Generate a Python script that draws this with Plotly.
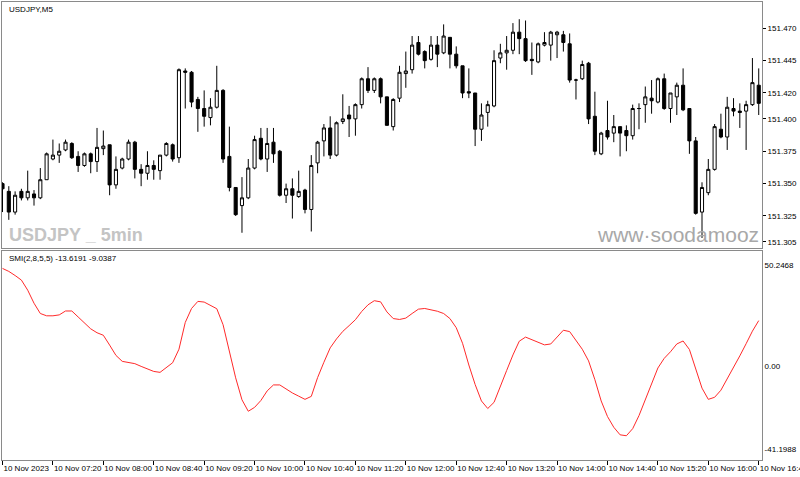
import pandas as pd
import plotly.graph_objects as go

# ---------------- data ----------------
start_time = "2023-11-10 06:40"
n_bars = 121

opens = [151.350,151.344,151.328,151.344,151.339,151.342,151.339,151.353,151.369,151.372,
         151.376,151.381,151.371,151.364,151.373,151.367,151.377,151.380,151.349,151.362,
         151.369,151.382,151.361,151.358,151.364,151.360,151.372,151.380,151.370,151.437,
         151.436,151.415,151.408,151.401,151.409,151.422,151.371,151.347,151.333,151.339,
         151.362,151.385,151.369,151.382,151.375,151.341,151.346,151.340,151.345,151.330,
         151.366,151.383,151.393,151.372,151.398,151.403,151.400,151.411,151.431,151.422,
         151.431,151.417,151.394,151.416,151.435,151.438,151.459,151.452,151.446,151.457,
         151.451,151.463,151.450,151.441,151.421,151.420,151.392,151.405,151.410,151.447,
         151.451,151.453,151.467,151.462,151.446,151.444,151.457,151.457,151.465,151.465,
         151.458,151.430,151.431,151.443,151.402,151.373,151.391,151.389,151.394,151.391,
         151.387,151.408,151.411,151.416,151.413,151.431,151.408,151.417,151.426,151.408,
         151.383,151.328,151.343,151.361,151.392,151.386,151.408,151.406,151.406,151.411,
         151.426]
highs = [151.351,151.348,151.344,151.346,151.360,151.345,151.362,151.374,151.384,151.381,
         151.384,151.382,151.375,151.374,151.374,151.393,151.391,151.380,151.371,151.370,
         151.384,151.383,151.365,151.375,151.368,151.372,151.382,151.381,151.439,151.439,
         151.437,151.417,151.422,151.416,151.441,151.423,151.394,151.347,151.355,151.369,
         151.387,151.393,151.393,151.393,151.376,151.350,151.354,151.360,151.346,151.372,
         151.383,151.396,151.402,151.398,151.419,151.410,151.412,151.432,151.440,151.432,
         151.432,151.417,151.416,151.441,151.452,151.464,151.464,151.453,151.464,151.464,
         151.473,151.463,151.456,151.441,151.439,151.420,151.412,151.414,151.453,151.458,
         151.464,151.474,151.477,151.476,151.459,151.459,151.467,151.468,151.468,151.468,
         151.466,151.431,151.445,151.444,151.421,151.390,151.414,151.403,151.394,151.395,
         151.411,151.412,151.425,151.430,151.432,151.435,151.420,151.428,151.439,151.408,
         151.386,151.351,151.369,151.396,151.404,151.417,151.416,151.412,151.414,151.447,
         151.439]
lows = [151.328,151.322,151.326,151.337,151.337,151.333,151.338,151.353,151.368,151.366,
        151.375,151.369,151.359,151.363,151.358,151.359,151.372,151.341,151.346,151.361,
        151.368,151.354,151.348,151.353,151.353,151.353,151.371,151.367,151.366,151.408,
        151.409,151.390,151.394,151.395,151.408,151.366,151.344,151.325,151.312,151.338,
        151.361,151.368,151.359,151.366,151.340,151.335,151.323,151.339,151.327,151.313,
        151.358,151.371,151.369,151.371,151.396,151.386,151.387,151.408,151.420,151.420,
        151.412,151.395,151.391,151.413,151.424,151.435,151.449,151.439,151.445,151.440,
        151.450,151.439,151.439,151.416,151.416,151.379,151.383,151.394,151.409,151.443,
        151.438,151.450,151.450,151.444,151.434,151.443,151.456,151.445,151.447,151.452,
        151.428,151.415,151.430,151.396,151.372,151.372,151.384,151.382,151.371,151.375,
        151.384,151.392,151.397,151.404,151.412,151.407,151.397,151.403,151.406,151.373,
        151.326,151.308,151.341,151.360,151.385,151.376,151.402,151.393,151.376,151.410,
        151.403]
closes = [151.346,151.328,151.341,151.339,151.344,151.339,151.353,151.373,151.372,151.375,
          151.382,151.370,151.364,151.373,151.367,151.378,151.379,151.349,151.361,151.369,
          151.382,151.361,151.358,151.364,151.361,151.372,151.381,151.369,151.438,151.436,
          151.413,151.408,151.402,151.409,151.422,151.369,151.347,151.326,151.339,151.362,
          151.384,151.369,151.381,151.373,151.341,151.346,151.341,151.344,151.330,151.364,
          151.382,151.393,151.372,151.397,151.400,151.400,151.411,151.431,151.422,151.431,
          151.417,151.395,151.415,151.436,151.437,151.457,151.450,151.445,151.457,151.450,
          151.464,151.450,151.441,151.420,151.420,151.392,151.403,151.411,151.445,151.451,
          151.453,151.467,151.462,151.445,151.445,151.458,151.459,151.467,151.467,151.459,
          151.430,151.430,151.442,151.400,151.375,151.389,151.386,151.394,151.389,151.387,
          151.408,151.408,151.417,151.414,151.431,151.408,151.420,151.426,151.407,151.383,
          151.327,151.347,151.361,151.394,151.386,151.409,151.406,151.405,151.411,151.428,
          151.412]

smi = [42.5,41.2,39.4,37.4,33.0,27.3,22.8,21.8,21.8,22.2,
       23.9,23.9,21.3,18.9,16.1,14.4,13.3,9.0,4.5,1.9,
       1.3,0.9,-0.3,-1.5,-2.5,-2.9,-0.8,1.3,7.2,18.9,
       25.0,28.1,27.8,26.5,24.9,17.9,6.9,-5.3,-14.9,-19.9,
       -18.2,-15.2,-11.0,-8.4,-8.4,-10.3,-11.9,-13.3,-14.7,-13.4,
       -5.2,1.5,7.8,11.7,15.0,17.5,20.1,23.7,26.6,28.4,
       27.9,23.5,20.6,20.2,20.8,22.8,24.7,25.0,24.5,23.8,
       22.8,20.6,16.6,9.8,0.3,-8.2,-15.4,-18.7,-16.0,-9.4,
       -2.1,4.7,10.7,12.5,11.4,10.1,9.1,9.5,12.3,15.5,
       14.9,10.9,7.2,2.1,-6.1,-15.4,-22.2,-26.9,-30.2,-30.6,
       -27.5,-21.8,-14.8,-8.1,-1.0,3.2,6.1,9.5,10.8,7.1,
       -1.5,-9.8,-14.7,-13.8,-10.7,-5.9,-0.8,4.3,9.6,15.1,
       19.7]

price_ticks = [151.470, 151.445, 151.420, 151.400, 151.375, 151.350, 151.325, 151.305]
price_min, price_max = 151.300, 151.4903
smi_max, smi_min = 50.2468, -41.1988
time_tick_labels = ["10 Nov 2023", "10 Nov 07:20", "10 Nov 08:00", "10 Nov 08:40",
                    "10 Nov 09:20", "10 Nov 10:00", "10 Nov 10:40", "10 Nov 11:20",
                    "10 Nov 12:00", "10 Nov 12:40", "10 Nov 13:20", "10 Nov 14:00",
                    "10 Nov 14:40", "10 Nov 15:20", "10 Nov 16:00", "10 Nov 16:40"]
smi_label = "SMI(2,8,5,5) -13.6191 -9.0387"
chart_title = "USDJPY,M5"

# ---------------- figure ----------------
times = pd.date_range(start_time, periods=n_bars, freq="5min")
bar = pd.Timedelta(minutes=5)
tick_times = times[::8]

FONT = "Liberation Sans"
FRAME = "#8a8a8a"
SMALL = 8

fig = go.Figure()
fig.add_trace(go.Candlestick(
    x=times, open=opens, high=highs, low=lows, close=closes,
    increasing=dict(line=dict(color="black", width=1), fillcolor="white"),
    decreasing=dict(line=dict(color="black", width=1), fillcolor="black"),
    whiskerwidth=0, xaxis="x", yaxis="y", showlegend=False, hoverinfo="skip"))
fig.add_trace(go.Scatter(
    x=times, y=smi, mode="lines", line=dict(color="#ff2a2a", width=1),
    xaxis="x2", yaxis="y2", showlegend=False, hoverinfo="skip"))

xr = [times[0] - 0.08 * bar, times[-1] + 0.52 * bar]
common_x = dict(range=xr, showgrid=False, zeroline=False, showline=True, mirror=True,
                linecolor=FRAME, linewidth=1, automargin=False)
fig.update_layout(
    width=800, height=477, margin=dict(l=2, r=38, t=2, b=17),
    paper_bgcolor="white", plot_bgcolor="white",
    font=dict(family=FONT, size=SMALL, color="#000000"),
    xaxis=dict(**common_x, domain=[0, 1], anchor="y", showticklabels=False, ticks="",
               rangeslider=dict(visible=False)),
    xaxis2=dict(**common_x, domain=[0, 1], anchor="y2", matches="x",
                tickvals=list(tick_times), ticktext=time_tick_labels,
                ticks="outside", ticklen=4, tickcolor="#000000", tickangle=0,
                ticklabelposition="outside right", ticklabeloverflow="allow",
                tickfont=dict(family=FONT, size=SMALL, color="#000000")),
    yaxis=dict(domain=[0.4622, 1], range=[price_min, price_max], side="right",
               showgrid=False, zeroline=False, showline=True, mirror=True,
               linecolor=FRAME, linewidth=1, tickvals=price_ticks, automargin=False,
               ticktext=[f"{v:.3f}" for v in price_ticks],
               ticks="outside", ticklen=3, tickcolor="#000000",
               tickfont=dict(family=FONT, size=SMALL, color="#000000")),
    yaxis2=dict(domain=[0, 0.457], range=[smi_min, smi_max], side="right",
                showgrid=False, zeroline=False, showline=True, mirror=True,
                linecolor=FRAME, linewidth=1, automargin=False,
                tickvals=[smi_max - 0.07 * (smi_max - smi_min), 0,
                          smi_min + 0.05 * (smi_max - smi_min)],
                ticktext=[f"{smi_max:.4f}", "0.00", f"{smi_min:.4f}"],
                ticks="", tickfont=dict(family=FONT, size=SMALL, color="#000000")),
)

fig.add_annotation(text=chart_title, xref="paper", yref="paper", x=0.006, y=0.998,
                   xanchor="left", yanchor="top", showarrow=False,
                   font=dict(family=FONT, size=SMALL, color="#000000"))
fig.add_annotation(text=smi_label, xref="paper", yref="paper", x=0.006, y=0.455,
                   xanchor="left", yanchor="top", showarrow=False,
                   font=dict(family=FONT, size=SMALL, color="#000000"))
fig.add_annotation(text="<b>USDJPY _ 5min</b>", xref="paper", yref="paper",
                   x=0.006, y=0.465, xanchor="left", yanchor="bottom", showarrow=False,
                   font=dict(family=FONT, size=18, color="#c4c4c4"))
fig.add_annotation(text="www·soodamooz", xref="paper", yref="paper",
                   x=0.999, y=0.462, xanchor="right", yanchor="bottom", showarrow=False,
                   font=dict(family=FONT, size=21, color="#a8a8a8"))

fig.write_html("out.html")
